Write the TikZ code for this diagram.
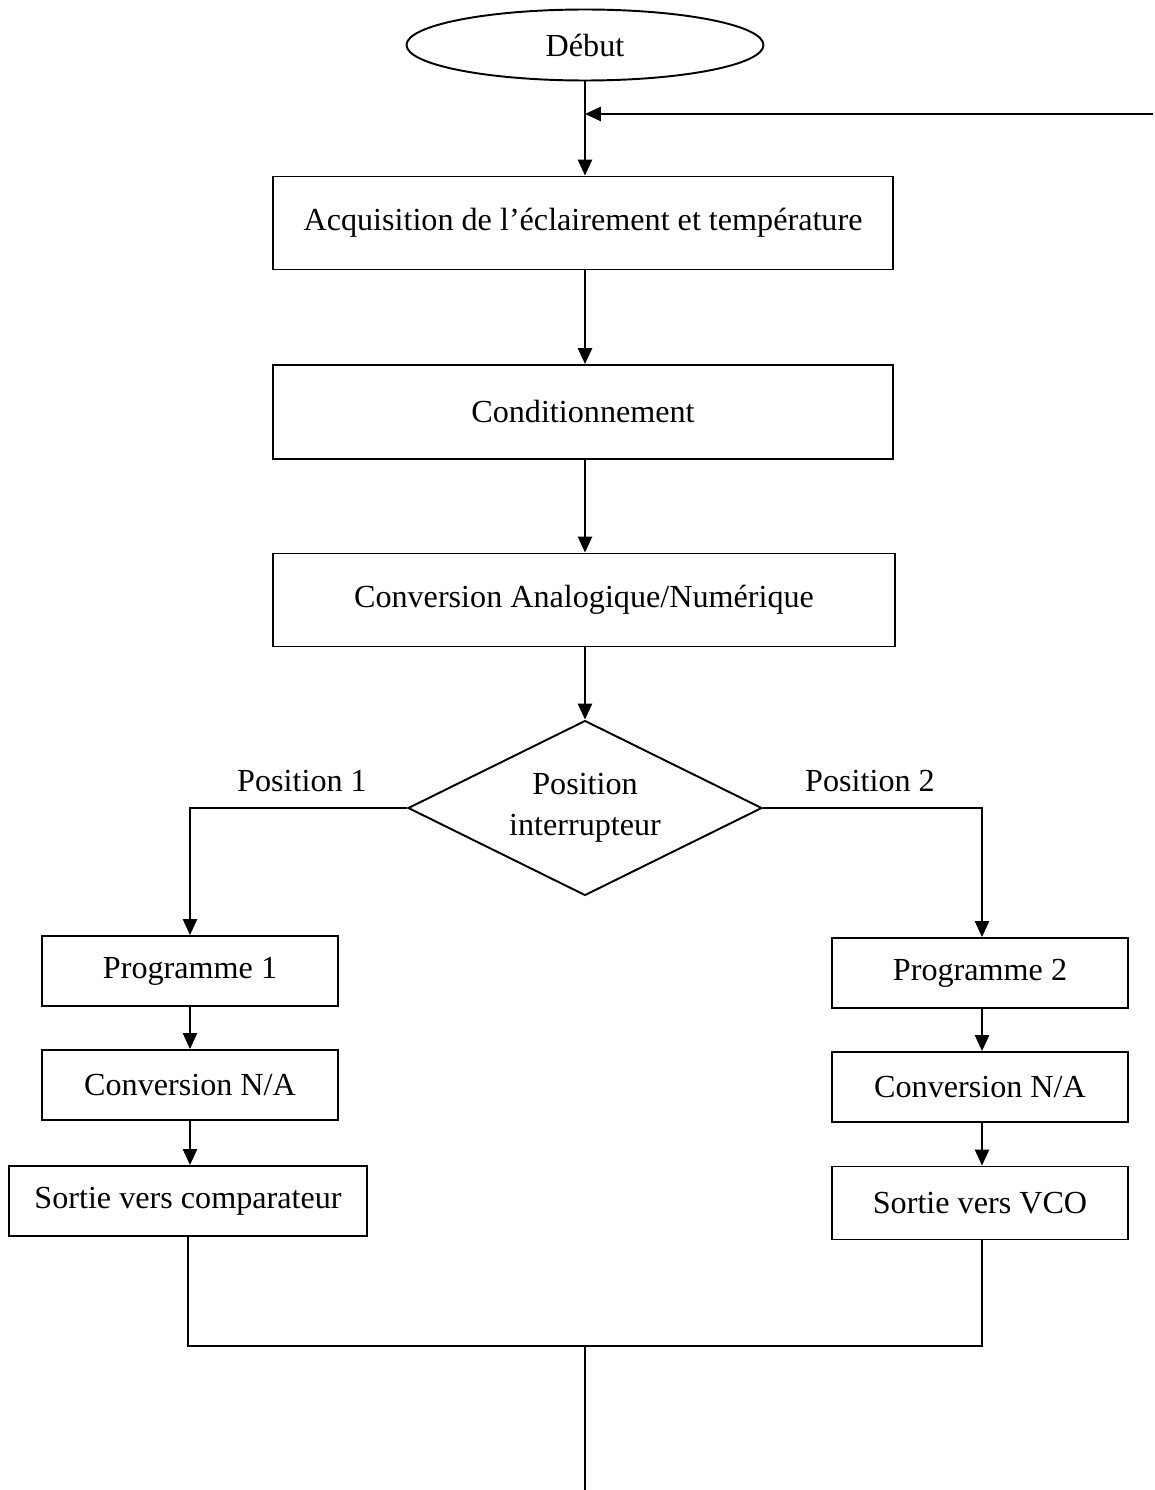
\documentclass[tikz,border=0pt]{standalone}
\usepackage{fontspec}
\setmainfont{Liberation Serif}
\usepackage{tikz}
\usetikzlibrary{positioning,arrows.meta,calc,shapes.geometric}

\begin{document}
\begin{tikzpicture}[
  x=0.02cm, y=-0.02cm,
  every node/.style={font=\fontsize{18.3}{23.5}\selectfont},
  box/.style={rectangle, draw, line width=1.1pt, inner sep=2pt,
    minimum width=12.42cm, minimum height=1.86cm},
  smallbox/.style={rectangle, draw, line width=1.1pt, inner sep=2pt,
    minimum width=5.93cm, minimum height=1.4cm},
  startstop/.style={ellipse, draw, line width=1.1pt, inner sep=0pt,
    minimum width=7.14cm, minimum height=1.42cm},
  decision/.style={diamond, draw, line width=1.1pt, inner sep=0pt,
    aspect=2, minimum width=7.08cm, minimum height=3.5cm, align=center},
  flow/.style={line width=1.1pt, -{Triangle[length=9pt,width=8pt]}},
  link/.style={line width=1.1pt}
]
\useasboundingbox (0,0) rectangle (1155,1490);

% main column
\node[startstop] (debut) at (585,45) {Début};
\node[box] (acq) at (583,223) {Acquisition de l’éclairement et température};
\node[box, minimum height=1.88cm] (cond) at (583,412) {Conditionnement};
\node[box, minimum width=12.46cm] (can) at (584,600) {Conversion Analogique/Numérique};
\node[decision] (inter) at (585,808) {Position\\interrupteur};

% left branch
\node[smallbox] (prog1) at (190,971) {Programme 1};
\node[smallbox] (cna1) at (190,1085) {Conversion N/A};
\node[smallbox, minimum width=7.16cm] (sortie1) at (188,1201) {Sortie vers comparateur};

% right branch
\node[smallbox] (prog2) at (980,973) {Programme 2};
\node[smallbox] (cna2) at (980,1087) {Conversion N/A};
\node[smallbox, minimum height=1.46cm] (sortie2) at (980,1203) {Sortie vers VCO};

\node (pos1) at (302,781) {Position 1};
\node (pos2) at (870,781) {Position 2};

\coordinate (retour) at (1153,114);
\coordinate (j1) at (188,1346);
\coordinate (j2) at (982,1346);
\coordinate (jm) at (585,1346);
\coordinate (fin) at (585,1490);

% connectors
\draw[flow] (debut.south) -- (debut.south |- acq.north);
\draw[flow] (retour) -- (retour -| debut.south);
\draw[flow] (debut.south |- acq.south) -- (debut.south |- cond.north);
\draw[flow] (debut.south |- cond.south) -- (debut.south |- can.north);
\draw[flow] (debut.south |- can.south) -- (inter.north);

\draw[flow] (inter.west) -- (prog1.north |- inter.west) -- (prog1.north);
\draw[flow] (inter.east) -- (j2 |- inter.east) -- (j2 |- prog2.north);

\draw[flow] (prog1.south) -- (cna1.north);
\draw[flow] (cna1.south) -- (cna1.south |- sortie1.north);
\draw[flow] (j2 |- prog2.south) -- (j2 |- cna2.north);
\draw[flow] (j2 |- cna2.south) -- (j2 |- sortie2.north);

\draw[link] (sortie1.south) -- (j1) -- (j2) -- (j2 |- sortie2.south);
\draw[link] (jm) -- (fin);
\end{tikzpicture}
\end{document}
